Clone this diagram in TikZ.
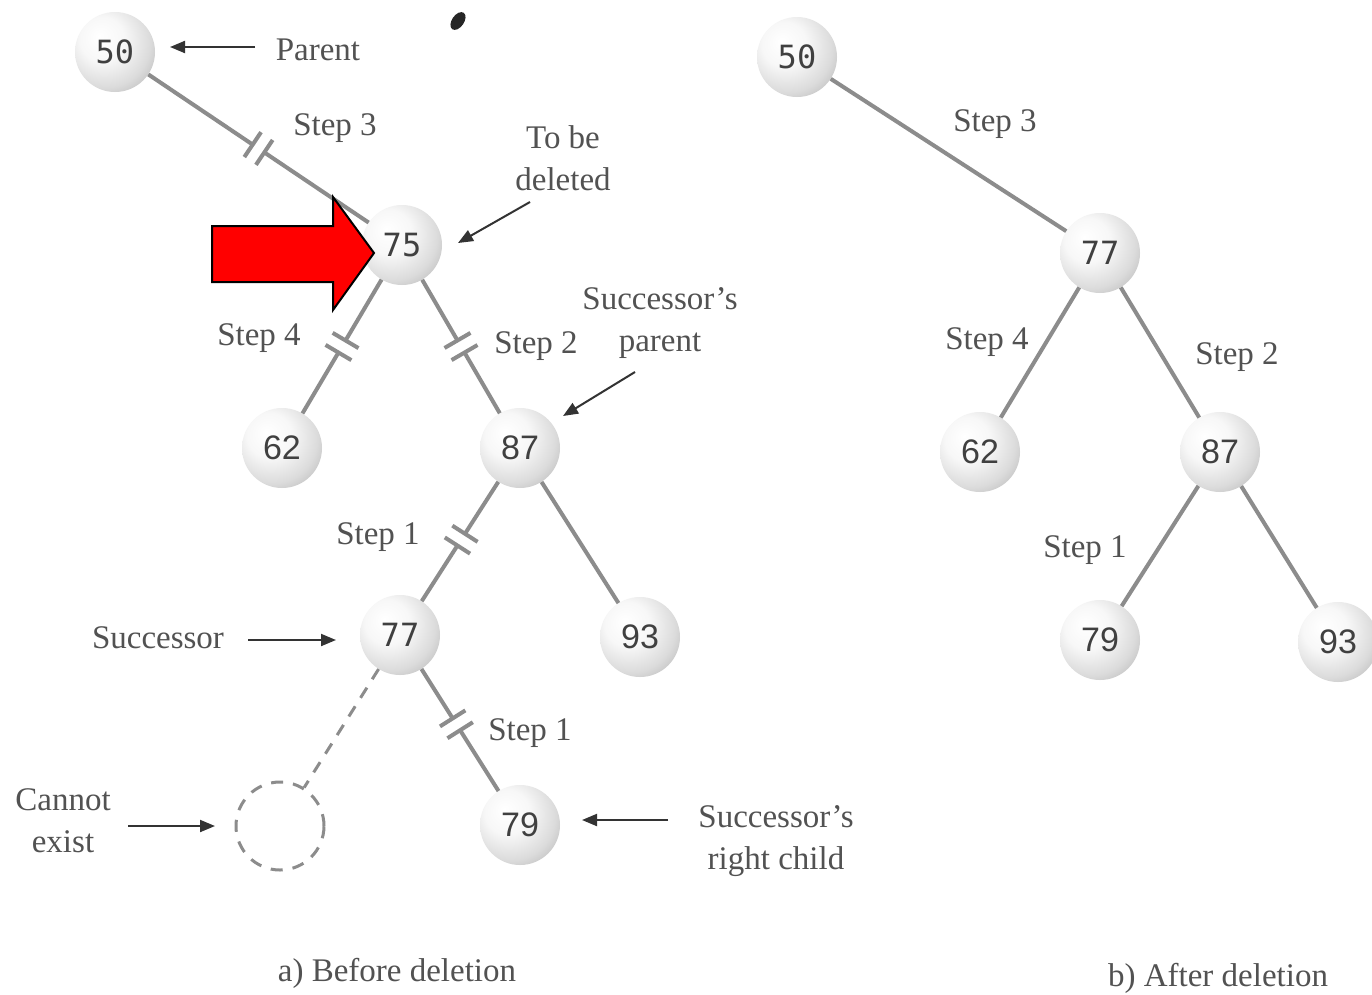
\documentclass[tikz,border=0pt]{standalone}
\usepackage{fontspec}
\setmainfont{Liberation Serif}
\newfontfamily\numfont{Liberation Sans}
\newfontfamily\monofont{DejaVu Sans Mono}
\usetikzlibrary{calc,arrows.meta}

\pgfdeclareradialshading{sph}{\pgfpoint{-10bp}{10bp}}{color(0bp)=(white); color(14bp)=(white!97!black); color(28bp)=(black!14); color(40bp)=(black!30); color(50bp)=(black!40); color(70bp)=(black!40)}

\tikzset{
  ball/.style={circle, minimum size=80pt, inner sep=0pt, shading=sph, text=black!75, font=\numfont\fontsize{34}{34}\selectfont},
  monoball/.style={ball, font=\monofont\fontsize{32}{32}\selectfont},
  edge/.style={draw=black!45, line width=4pt},
  lab/.style={text=black!68, font=\fontsize{33}{42}\selectfont, inner sep=0pt, align=center},
  ptr/.style={draw=black!80, line width=2pt, -{Triangle[length=15pt,width=12pt]}},
  ghoststyle/.style={circle, minimum size=88pt, inner sep=0pt, draw=black!45, line width=3pt, dash pattern=on 12pt off 10pt},
}

\newcommand{\brokenedge}[3]{%
  \coordinate (bkm) at ($(#1)!#3!(#2)$);
  \coordinate (bka) at ($(bkm)!7pt!(#1)$);
  \coordinate (bkb) at ($(bkm)!7pt!(#2)$);
  \draw[edge] (#1) -- (bka);
  \draw[edge] (#2) -- (bkb);
  \draw[edge] ($(bka)!15pt!90:(#1)$) -- ($(bka)!15pt!-90:(#1)$);
  \draw[edge] ($(bkb)!15pt!90:(#2)$) -- ($(bkb)!15pt!-90:(#2)$);
}

\begin{document}
\begin{tikzpicture}[x=1pt,y=-1pt]
\useasboundingbox (0,0) rectangle (1372,994);
\fill[white] (0,0) rectangle (1372,994);

% ---- left tree (before deletion)
\node[monoball] (a50) at (115,52) {50};
\node[monoball] (a75) at (402,245) {75};
\node[ball] (a62) at (282,448) {62};
\node[ball] (a87) at (520,448) {87};
\node[monoball] (a77) at (400,635) {77};
\node[ball] (a93) at (640,637) {93};
\node[ball] (a79) at (520,825) {79};
\node[ghoststyle] (ghost) at (280,826) {};

\brokenedge{a50}{a75}{0.5}
\brokenedge{a75}{a62}{0.5}
\brokenedge{a75}{a87}{0.5}
\brokenedge{a87}{a77}{0.49}
\brokenedge{a77}{a79}{0.47}
\draw[edge] (a87) -- (a93);
\draw[edge, line width=3pt, dash pattern=on 12pt off 10pt] (a77) -- (ghost);

% labels left
\node[lab] (lparent) at (318,50) {Parent};
\node[lab] (ls3a) at (335,128) {Step 3};
\node[lab] (ltobe) at (563,158) {To be\\deleted};
\node[lab] (lsp) at (660,323) {Successor's\\parent};
\node[lab] (ls4a) at (259,338) {Step 4};
\node[lab] (ls2a) at (536,346) {Step 2};
\node[lab] (ls1a) at (378,537) {Step 1};
\node[lab] (lsucc) at (158,638) {Successor};
\node[lab] (ls1b) at (530,733) {Step 1};
\node[lab] (lcannot) at (63,821) {Cannot\\exist};
\node[lab] (lsrc) at (776,841) {Successor's\\right child};
\node[lab] (lcapa) at (397,973) {a) Before deletion};

% pointer arrows
\coordinate (p1s) at (255,47); \coordinate (p1e) at (170,47);
\draw[ptr] (p1s) -- (p1e);
\coordinate (p2s) at (530,202); \coordinate (p2e) at (458,243);
\draw[ptr] (p2s) -- (p2e);
\coordinate (p3s) at (635,372); \coordinate (p3e) at (563,416);
\draw[ptr] (p3s) -- (p3e);
\coordinate (p4s) at (248,640); \coordinate (p4e) at (336,640);
\draw[ptr] (p4s) -- (p4e);
\coordinate (p5s) at (128,826); \coordinate (p5e) at (215,826);
\draw[ptr] (p5s) -- (p5e);
\coordinate (p6s) at (668,820); \coordinate (p6e) at (582,820);
\draw[ptr] (p6s) -- (p6e);

% red block arrow
\draw[fill=red, draw=black, line width=2pt, line join=miter]
  (212,226) -- (333,226) -- (333,197) -- (374,253) -- (333,310) -- (333,282) -- (212,282) -- cycle;

% ink blob
\fill[black!85, rotate around={-35:(458,21)}] (458,21) ellipse (6pt and 10pt);

% ---- right tree (after deletion)
\node[monoball] (b50) at (797,57) {50};
\node[monoball] (b77) at (1100,253) {77};
\node[ball] (b62) at (980,452) {62};
\node[ball] (b87) at (1220,452) {87};
\node[ball] (b79) at (1100,640) {79};
\node[ball] (b93) at (1338,642) {93};

\draw[edge] (b50) -- (b77);
\draw[edge] (b77) -- (b62);
\draw[edge] (b77) -- (b87);
\draw[edge] (b87) -- (b79);
\draw[edge] (b87) -- (b93);

\node[lab] (rs3) at (995,124) {Step 3};
\node[lab] (rs4) at (987,342) {Step 4};
\node[lab] (rs2) at (1237,357) {Step 2};
\node[lab] (rs1) at (1085,550) {Step 1};
\node[lab] (lcapb) at (1218,978) {b) After deletion};
\end{tikzpicture}
\end{document}
